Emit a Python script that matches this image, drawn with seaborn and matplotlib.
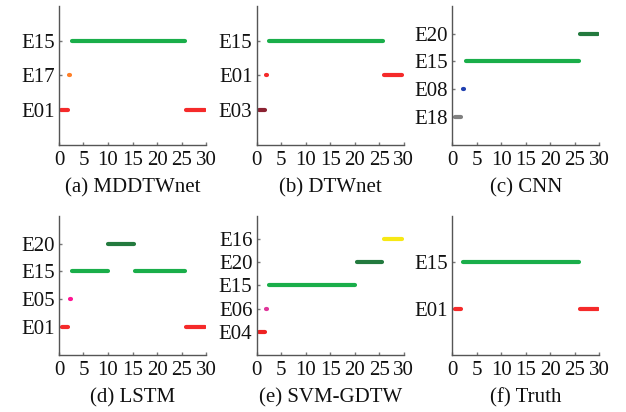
import matplotlib
matplotlib.use("Agg")
import matplotlib.pyplot as plt
import seaborn as sns
import pandas as pd

sns.set_theme(style="white")
plt.rcParams['font.family'] = ['Liberation Serif', 'DejaVu Serif']
plt.rcParams['mathtext.fontset'] = 'stix'

# ---- data ----
titles = ["(a) MDDTWnet", "(b) DTWnet", "(c) CNN", "(d) LSTM", "(e) SVM-GDTW", "(f) Truth"]

# categories listed bottom to top
cats_a = ["E01", "E17", "E15"]
seg_ev_a = ["E01", "E17", "E15", "E01"]
seg_start_a = [0.5, 2.1, 2.6, 26.0]
seg_end_a = [1.8, 2.3, 25.7, 29.8]

cats_b = ["E03", "E01", "E15"]
seg_ev_b = ["E03", "E01", "E15", "E01"]
seg_start_b = [0.5, 2.0, 2.6, 26.0]
seg_end_b = [1.8, 2.2, 25.7, 29.6]

cats_c = ["E18", "E08", "E15", "E20"]
seg_ev_c = ["E18", "E08", "E15", "E20"]
seg_start_c = [0.5, 2.2, 2.7, 26.0]
seg_end_c = [1.8, 2.4, 25.8, 29.8]

cats_d = ["E01", "E05", "E15", "E20"]
seg_ev_d = ["E01", "E05", "E15", "E20", "E15", "E01"]
seg_start_d = [0.6, 2.2, 2.7, 10.1, 15.6, 26.0]
seg_end_d = [1.9, 2.4, 9.9, 15.3, 25.8, 29.7]

cats_e = ["E04", "E06", "E15", "E20", "E16"]
seg_ev_e = ["E04", "E06", "E15", "E20", "E16"]
seg_start_e = [0.5, 2.0, 2.6, 20.5, 26.0]
seg_end_e = [1.8, 2.2, 20.1, 25.6, 29.6]

cats_f = ["E01", "E15"]
seg_ev_f = ["E01", "E15", "E01"]
seg_start_f = [0.6, 2.2, 26.0]
seg_end_f = [1.8, 25.8, 29.8]

xticks = [0, 5, 10, 15, 20, 25, 30]

palette = {
    "E15": "#1aae4a",
    "E01": "#f52a2a",
    "E17": "#ff7f27",
    "E03": "#8b2232",
    "E18": "#808080",
    "E08": "#2040b0",
    "E20": "#237a3e",
    "E05": "#ff1493",
    "E06": "#e0359a",
    "E16": "#f7e814",
    "E04": "#ee2222",
}

panels = [
    (cats_a, seg_ev_a, seg_start_a, seg_end_a),
    (cats_b, seg_ev_b, seg_start_b, seg_end_b),
    (cats_c, seg_ev_c, seg_start_c, seg_end_c),
    (cats_d, seg_ev_d, seg_start_d, seg_end_d),
    (cats_e, seg_ev_e, seg_start_e, seg_end_e),
    (cats_f, seg_ev_f, seg_start_f, seg_end_f),
]

fig = plt.figure(figsize=(6.26, 4.12), dpi=100)
lefts = [0.0942, 0.410, 0.7225]
bottoms = [0.648, 0.1383]
w, h = 0.235, 0.338
FS = 15

for i, (cats, evs, starts, ends) in enumerate(panels):
    r, c = divmod(i, 3)
    ax = fig.add_axes([lefts[c], bottoms[r], w, h])
    rows = []
    for k, (ev, s, e) in enumerate(zip(evs, starts, ends)):
        lvl = cats.index(ev) + 1
        rows.append({"t": s, "level": lvl, "event": ev, "seg": k})
        rows.append({"t": e, "level": lvl, "event": ev, "seg": k})
    df = pd.DataFrame(rows)
    sns.lineplot(data=df, x="t", y="level", hue="event", units="seg",
                 estimator=None, palette=palette, legend=False, ax=ax,
                 linewidth=3.0, solid_capstyle="round")
    ax.set_xlim(0, 30)
    ax.set_ylim(0, len(cats) + 1)
    ax.set_xticks(xticks)
    ax.set_xticklabels([str(v) for v in xticks], fontsize=FS)
    ax.set_yticks(range(1, len(cats) + 1))
    ax.set_yticklabels(cats, fontsize=FS)
    ax.set_ylabel("")
    ax.set_xlabel(titles[i], fontsize=FS, labelpad=6, color="#111111")
    for side in ["top", "right"]:
        ax.spines[side].set_visible(False)
    for side in ["left", "bottom"]:
        ax.spines[side].set_color("#555555")
        ax.spines[side].set_linewidth(1.0)
    ax.tick_params(axis="both", direction="in", length=2.5, width=1.0,
                   color="#777777", labelcolor="#111111", pad=3)
    ax.tick_params(axis="x", pad=4)
    ax.tick_params(left=True, bottom=True)

fig.savefig("out.png", dpi=100, facecolor="white")
